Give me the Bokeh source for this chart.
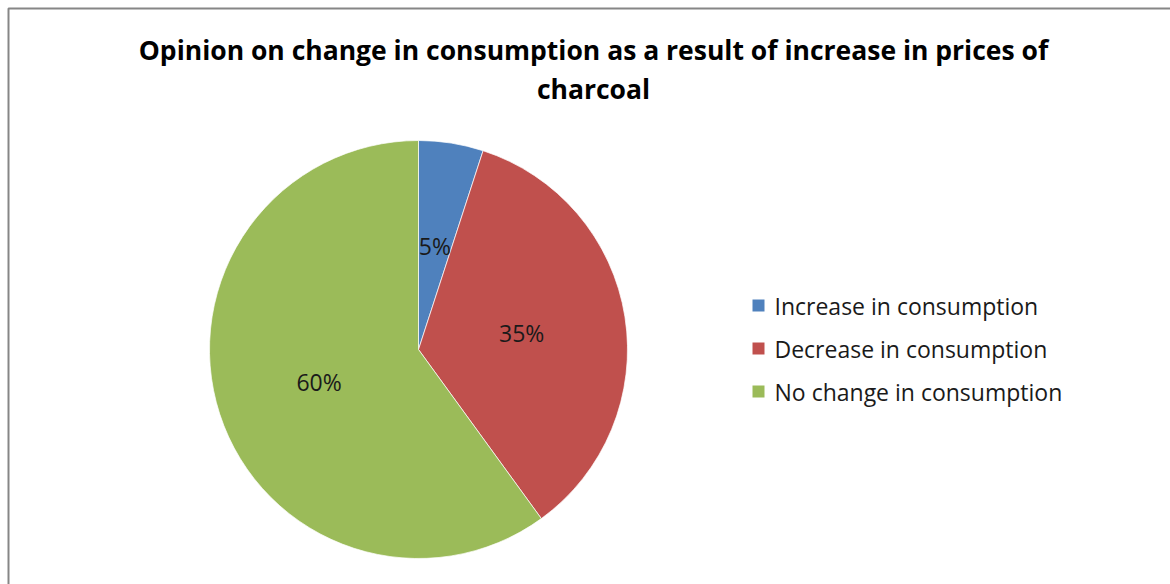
import math
from bokeh.plotting import figure
from bokeh.models import ColumnDataSource, Range1d, BoxAnnotation
from bokeh.core.properties import value
from bokeh.embed import file_html
from bokeh.resources import INLINE

# Survey responses on charcoal consumption after a price increase
categories = ["Increase in consumption", "Decrease in consumption", "No change in consumption"]
shares = [5, 35, 60]
colors = ["#4F81BD", "#C0504D", "#9BBB59"]
title_lines = ["Opinion on change in consumption as a result of increase in prices of", "charcoal"]

W, H = 1170, 584
FONT = "Open Sans"

# pie geometry (pixel space, y measured upward)
cx, cy, r = 418, H - 349, 209

total = sum(shares)
starts, ends, lx, ly, labels = [], [], [], [], []
a = math.pi / 2
for s in shares:
    sweep = 2 * math.pi * s / total
    starts.append(a)
    ends.append(a - sweep)
    mid = a - sweep / 2
    lx.append(cx + 0.5 * r * math.cos(mid))
    ly.append(cy + 0.5 * r * math.sin(mid))
    labels.append(f"{s}%")
    a -= sweep

src = ColumnDataSource(dict(start=starts, end=ends, color=colors, lx=lx, ly=ly, label=labels))

p = figure(width=W, height=H, output_backend="svg", toolbar_location=None,
           x_range=Range1d(0, W), y_range=Range1d(0, H),
           min_border=0, outline_line_color=None)
p.axis.visible = False
p.grid.visible = False
p.background_fill_color = "white"
p.border_fill_color = "white"

# chart area frame
p.add_layout(BoxAnnotation(left=8, right=W + 20, top=H - 8, bottom=-20,
                           fill_color=None, fill_alpha=0, line_color="#868686",
                           line_alpha=1.0, line_width=2))

p.wedge(x=cx, y=cy, radius=r, start_angle="start", end_angle="end", direction="clock",
        fill_color="color", line_color="white", line_width=0.7, source=src)

p.text(x="lx", y="ly", text="label", source=src, text_align="center", text_baseline="middle",
       text_font=value(FONT), text_font_size="23px", text_color="#1a1a1a")

# title
ty = [H - 49, H - 88]
p.text(x=[593, 593], y=ty, text=title_lines, text_align="center", text_baseline="middle",
       text_font=value(FONT), text_font_size="26.5px", text_font_style="bold", text_color="black")

# legend
leg_y = [H - 305 - i * 43 for i in range(len(categories))]
leg = ColumnDataSource(dict(y=leg_y, name=categories, color=colors))
p.scatter(x=758, y="y", marker="square", size=12, fill_color="color", line_color=None, source=leg)
p.text(x=774, y="y", text="name", source=leg, text_align="left", text_baseline="middle",
       text_font=value(FONT), text_font_size="23px", text_color="#1a1a1a")

open("out.html", "w").write(file_html(p, INLINE))
